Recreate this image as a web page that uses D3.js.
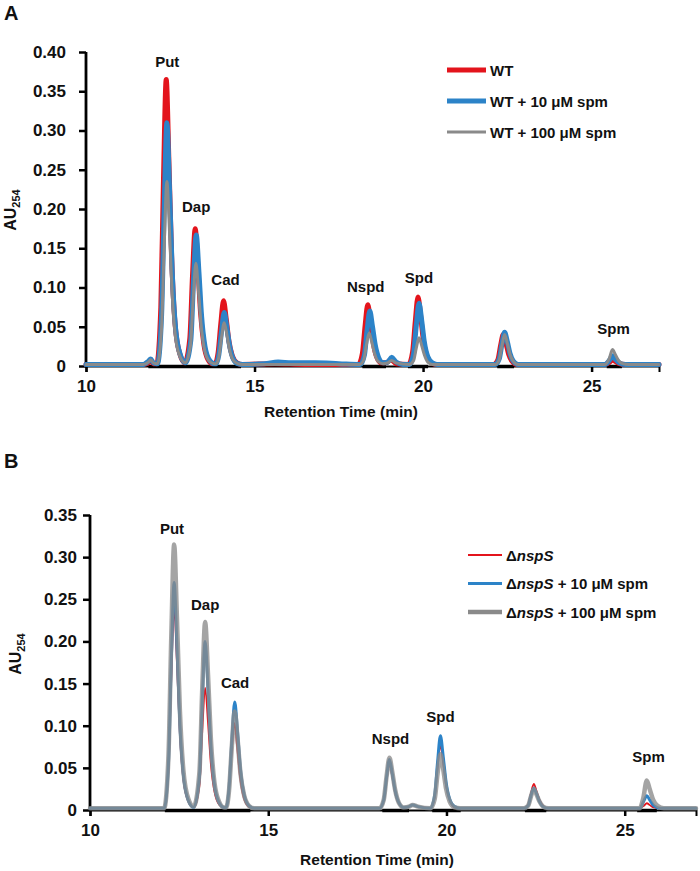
<!DOCTYPE html>
<html><head><meta charset="utf-8">
<script src="https://cdn.jsdelivr.net/npm/d3@7"></script>
<style>body{margin:0;background:#fff}svg{display:block}text{font-family:"Liberation Sans",Arial,sans-serif;font-weight:bold;fill:#111}</style>
</head><body>
<script>
// ---------- data ----------
const xTicks = [10, 15, 20, 25];
const yTicksA = [0, 0.05, 0.10, 0.15, 0.20, 0.25, 0.30, 0.35, 0.40];
const yTicksB = [0, 0.05, 0.10, 0.15, 0.20, 0.25, 0.30, 0.35];
const legendA = ["WT", "WT + 10 μM spm", "WT + 100 μM spm"];
const legendB = [" ", " + 10 μM spm", " + 100 μM spm"];
const peakNames = ["Put", "Dap", "Cad", "Nspd", "Spd", "Spm"];
const peakPosA = [[12.41,0.381],[13.27,0.196],[14.14,0.103],[18.30,0.094],[19.88,0.106],[25.65,0.041]];
const peakPosB = [[12.30,0.328],[13.23,0.2375],[14.07,0.145],[18.43,0.078],[19.83,0.1045],[25.67,0.057]];
const baseSegA = [[11.85,14.6],[18.2,18.9],[19.55,20.15],[22.2,22.7],[25.45,25.9]];
const baseSegB = [[12.1,14.5],[18.2,18.95],[19.6,20.4],[22.2,22.8],[25.35,25.9]];

const topWT = [[10,0.002],[11.7,0.002],[11.85,0.004],[11.92,0.006],[12.0,0.003],[12.10,0.003],[12.22,0.075],[12.30,0.24],[12.38,0.365],[12.46,0.26],[12.54,0.14],[12.64,0.055],[12.78,0.016],[12.93,0.004],[13.08,0.035],[13.16,0.115],[13.24,0.175],[13.32,0.126],[13.40,0.067],[13.50,0.027],[13.62,0.008],[13.74,0.003],[13.84,0.004],[13.92,0.017],[14.00,0.054],[14.08,0.083],[14.16,0.060],[14.24,0.032],[14.34,0.013],[14.48,0.004],[14.63,0.002],[15.6,0.003],[16.5,0.002],[18.08,0.002],[18.20,0.016],[18.28,0.051],[18.36,0.078],[18.44,0.056],[18.52,0.030],[18.62,0.012],[18.76,0.004],[18.9,0.004],[19.05,0.008],[19.2,0.003],[19.57,0.002],[19.69,0.018],[19.77,0.057],[19.85,0.088],[19.93,0.063],[20.01,0.033],[20.11,0.013],[20.25,0.004],[20.40,0.002],[22.10,0.002],[22.22,0.008],[22.30,0.026],[22.38,0.040],[22.46,0.029],[22.54,0.015],[22.64,0.006],[22.78,0.002],[25.40,0.002],[25.54,0.005],[25.62,0.008],[25.70,0.006],[25.82,0.003],[26.0,0.002],[27,0.002]];
const topWT10 = [[10,0.002],[11.7,0.002],[11.85,0.006],[11.92,0.009],[12.0,0.004],[12.12,0.003],[12.24,0.062],[12.32,0.20],[12.40,0.31],[12.48,0.223],[12.56,0.118],[12.66,0.047],[12.80,0.014],[12.95,0.004],[13.11,0.033],[13.19,0.109],[13.27,0.167],[13.35,0.120],[13.43,0.063],[13.53,0.025],[13.67,0.007],[13.80,0.003],[13.86,0.003],[13.94,0.014],[14.02,0.044],[14.10,0.068],[14.18,0.049],[14.26,0.026],[14.36,0.010],[14.50,0.003],[14.65,0.002],[15.3,0.003],[15.7,0.005],[16.1,0.004],[16.8,0.004],[17.5,0.003],[18.14,0.002],[18.26,0.014],[18.34,0.046],[18.42,0.070],[18.50,0.050],[18.58,0.027],[18.68,0.011],[18.82,0.004],[18.95,0.005],[19.07,0.011],[19.2,0.005],[19.4,0.002],[19.60,0.002],[19.72,0.016],[19.80,0.052],[19.88,0.080],[19.96,0.058],[20.04,0.030],[20.14,0.012],[20.28,0.004],[20.43,0.002],[22.14,0.002],[22.26,0.009],[22.34,0.028],[22.42,0.043],[22.50,0.031],[22.58,0.016],[22.68,0.006],[22.82,0.002],[25.40,0.002],[25.54,0.008],[25.62,0.013],[25.70,0.009],[25.82,0.004],[26.0,0.002],[27,0.002]];
const topWT100 = [[10,0.002],[11.7,0.002],[11.85,0.005],[11.92,0.008],[12.0,0.004],[12.12,0.003],[12.24,0.047],[12.32,0.153],[12.40,0.235],[12.48,0.169],[12.56,0.089],[12.66,0.035],[12.80,0.011],[12.95,0.004],[13.10,0.026],[13.18,0.085],[13.26,0.131],[13.34,0.094],[13.42,0.050],[13.52,0.020],[13.66,0.006],[13.80,0.003],[13.86,0.003],[13.94,0.011],[14.02,0.036],[14.10,0.055],[14.18,0.040],[14.26,0.021],[14.36,0.008],[14.50,0.003],[14.65,0.002],[18.12,0.002],[18.24,0.008],[18.32,0.027],[18.40,0.042],[18.48,0.030],[18.56,0.016],[18.66,0.006],[18.80,0.003],[18.95,0.004],[19.07,0.007],[19.2,0.004],[19.60,0.002],[19.72,0.007],[19.80,0.023],[19.88,0.036],[19.96,0.026],[20.04,0.014],[20.14,0.005],[20.28,0.002],[22.14,0.002],[22.26,0.008],[22.34,0.026],[22.42,0.040],[22.50,0.029],[22.58,0.015],[22.68,0.006],[22.82,0.002],[25.40,0.002],[25.52,0.009],[25.62,0.021],[25.70,0.015],[25.80,0.007],[25.92,0.003],[26.1,0.002],[27,0.002]];

const botNsp = [[10,0.002],[12.08,0.002],[12.20,0.048],[12.28,0.156],[12.36,0.24],[12.44,0.173],[12.52,0.091],[12.62,0.036],[12.76,0.010],[12.91,0.003],[13.07,0.029],[13.15,0.094],[13.23,0.145],[13.31,0.104],[13.39,0.055],[13.49,0.022],[13.63,0.006],[13.76,0.003],[13.81,0.003],[13.89,0.021],[13.97,0.067],[14.05,0.103],[14.13,0.074],[14.21,0.039],[14.31,0.015],[14.45,0.004],[14.60,0.002],[18.12,0.002],[18.24,0.011],[18.32,0.036],[18.40,0.055],[18.48,0.040],[18.56,0.021],[18.66,0.008],[18.80,0.003],[18.95,0.004],[19.05,0.006],[19.2,0.004],[19.35,0.003],[19.55,0.002],[19.67,0.015],[19.75,0.050],[19.83,0.077],[19.91,0.055],[19.99,0.029],[20.09,0.012],[20.23,0.003],[20.38,0.002],[22.17,0.002],[22.29,0.006],[22.37,0.020],[22.45,0.031],[22.53,0.022],[22.61,0.012],[22.71,0.005],[22.85,0.002],[25.40,0.002],[25.54,0.005],[25.62,0.008],[25.70,0.006],[25.82,0.003],[26.0,0.002],[27,0.002]];
const botNsp10 = [[10,0.002],[12.08,0.002],[12.20,0.054],[12.28,0.176],[12.36,0.27],[12.44,0.194],[12.52,0.103],[12.62,0.041],[12.76,0.011],[12.91,0.003],[13.07,0.040],[13.15,0.130],[13.23,0.20],[13.31,0.144],[13.39,0.076],[13.49,0.030],[13.63,0.008],[13.76,0.003],[13.82,0.003],[13.90,0.026],[13.98,0.083],[14.06,0.128],[14.14,0.092],[14.22,0.049],[14.32,0.019],[14.46,0.005],[14.61,0.002],[18.12,0.002],[18.24,0.012],[18.32,0.039],[18.40,0.060],[18.48,0.043],[18.56,0.023],[18.66,0.009],[18.80,0.003],[18.95,0.004],[19.05,0.006],[19.2,0.004],[19.55,0.002],[19.67,0.018],[19.75,0.057],[19.83,0.088],[19.91,0.063],[19.99,0.033],[20.09,0.013],[20.23,0.004],[20.38,0.002],[22.17,0.002],[22.29,0.005],[22.37,0.017],[22.45,0.026],[22.53,0.019],[22.61,0.010],[22.71,0.004],[22.85,0.002],[25.42,0.002],[25.54,0.011],[25.62,0.017],[25.70,0.012],[25.82,0.005],[26.0,0.002],[27,0.002]];
const botNsp100 = [[10,0.002],[12.08,0.002],[12.20,0.063],[12.28,0.205],[12.36,0.315],[12.44,0.227],[12.52,0.120],[12.62,0.047],[12.76,0.013],[12.91,0.004],[13.07,0.045],[13.15,0.145],[13.23,0.223],[13.31,0.161],[13.39,0.085],[13.49,0.033],[13.63,0.009],[13.76,0.003],[13.82,0.003],[13.90,0.023],[13.98,0.076],[14.06,0.117],[14.14,0.084],[14.22,0.044],[14.32,0.018],[14.46,0.005],[14.61,0.002],[18.12,0.002],[18.24,0.012],[18.32,0.040],[18.40,0.062],[18.48,0.045],[18.56,0.024],[18.66,0.009],[18.80,0.003],[18.95,0.004],[19.05,0.006],[19.2,0.004],[19.55,0.002],[19.67,0.013],[19.75,0.043],[19.83,0.066],[19.91,0.048],[19.99,0.025],[20.09,0.010],[20.23,0.003],[20.38,0.002],[22.17,0.002],[22.29,0.005],[22.37,0.016],[22.45,0.025],[22.53,0.018],[22.61,0.010],[22.71,0.004],[22.85,0.002],[25.42,0.002],[25.52,0.014],[25.62,0.035],[25.70,0.025],[25.80,0.012],[25.92,0.005],[26.1,0.002],[27,0.002]];

// ---------- drawing ----------
const RED = "#e3141c", BLUE = "#2c83c8", GRAY = "#8a8a8a";
const W = 700, H = 871;
const svg = d3.select("body").append("svg").attr("width", W).attr("height", H);

function panel(cfg) {
  const x = d3.scaleLinear().domain([10, 27]).range([cfg.x0, cfg.x1]);
  const y = d3.scaleLinear().domain([0, cfg.ymax]).range([cfg.y0, cfg.y1]);
  const g = svg.append("g");

  const xa = g.append("g").attr("transform", `translate(0,${cfg.y0})`)
    .call(d3.axisBottom(x).tickValues(xTicks).tickSize(6).tickPadding(8).tickFormat(d3.format("d")));
  xa.select(".domain").attr("stroke", "#000").attr("stroke-width", 2);
  xa.selectAll(".tick line").attr("stroke", "#000").attr("stroke-width", 2.5);
  xa.selectAll("text").style("font-size", "17px").attr("fill", "#111");

  const ya = g.append("g").attr("transform", `translate(${cfg.x0},0)`)
    .call(d3.axisLeft(y).tickValues(cfg.yTicks).tickSize(7).tickPadding(cfg.tickPad)
      .tickFormat(d => d === 0 ? "0" : d3.format(".2f")(d)));
  ya.select(".domain").attr("stroke", "#000").attr("stroke-width", 2.8).attr("d", `M0,${cfg.y0}V${cfg.y1}`);
  ya.selectAll(".tick line").attr("stroke", "#000").attr("stroke-width", 2.5);
  ya.selectAll("text").style("font-size", "17px").attr("fill", "#111");

  g.selectAll(".bs").data(cfg.baseSeg).join("line")
    .attr("x1", d => x(d[0])).attr("x2", d => x(d[1]))
    .attr("y1", cfg.y0 + 0.5).attr("y2", cfg.y0 + 0.5)
    .attr("stroke", "#000").attr("stroke-width", 3.5);

  const line = d3.line().x(d => x(d[0])).y(d => y(d[1])).curve(d3.curveMonotoneX);
  cfg.series.forEach(s => {
    g.append("path").datum(s.data).attr("d", line)
      .attr("fill", "none").attr("stroke", s.color).attr("stroke-width", s.w)
      .attr("stroke-opacity", s.op || 1)
      .attr("stroke-linejoin", "round").attr("stroke-linecap", "round");
  });

  g.selectAll(".pk").data(cfg.peakPos).join("text")
    .attr("x", d => x(d[0])).attr("y", d => y(d[1]))
    .attr("text-anchor", "middle").style("font-size", "15px")
    .text((d, i) => peakNames[i]);

  g.append("text").attr("x", cfg.xTitleX).attr("y", cfg.xTitleY)
    .attr("text-anchor", "middle").style("font-size", "15.5px").text("Retention Time (min)");
  const yt = g.append("text").attr("transform", `translate(${cfg.yTitleX},${cfg.yTitleY}) rotate(-90)`)
    .attr("text-anchor", "middle").style("font-size", "16px");
  yt.append("tspan").text("AU");
  yt.append("tspan").attr("dy", 4).style("font-size", "11px").text("254");

  g.append("text").attr("x", 4).attr("y", cfg.letterY).style("font-size", "20px").text(cfg.letter);

  const lg = g.append("g");
  cfg.series.slice().sort((a, b) => a.order - b.order).forEach((s, i) => {
    const ly = cfg.legY + i * cfg.legDy;
    lg.append("line").attr("x1", cfg.legX).attr("x2", cfg.legX + cfg.legLen)
      .attr("y1", ly).attr("y2", ly).attr("stroke", s.color).attr("stroke-width", s.legW);
    const t = lg.append("text").attr("x", cfg.legX + cfg.legLen + 4).attr("y", ly + 5.5).style("font-size", "15px");
    if (cfg.delta) {
      t.append("tspan").text("Δ");
      t.append("tspan").style("font-style", "italic").text("nspS");
      if (s.label.trim()) t.append("tspan").text(s.label);
    } else {
      t.text(s.label);
    }
  });
}

panel({
  letter: "A", letterY: 20, x0: 86, x1: 659, y0: 366, y1: 52, ymax: 0.40, yTicks: yTicksA, tickPad: 13,
  baseSeg: baseSegA, peakPos: peakPosA,
  xTitleX: 341, xTitleY: 417, yTitleX: 16, yTitleY: 210,
  legX: 447, legLen: 39, legY: 70, legDy: 31, delta: false,
  series: [
    {data: topWT, color: RED, w: 5, legW: 5, label: legendA[0], order: 0},
    {data: topWT10, color: BLUE, w: 5, legW: 5, label: legendA[1], order: 1},
    {data: topWT100, color: GRAY, w: 3, legW: 3, label: legendA[2], order: 2}
  ]
});

panel({
  letter: "B", letterY: 468, x0: 90, x1: 696, y0: 810, y1: 515, ymax: 0.35, yTicks: yTicksB, tickPad: 6,
  baseSeg: baseSegB, peakPos: peakPosB,
  xTitleX: 377, xTitleY: 865, yTitleX: 21, yTitleY: 654,
  legX: 468, legLen: 34, legY: 555, legDy: 28.5, delta: true,
  series: [
    {data: botNsp, color: RED, w: 1.8, legW: 2, label: legendB[0], order: 0},
    {data: botNsp10, color: BLUE, w: 3, legW: 3, label: legendB[1], order: 1},
    {data: botNsp100, color: GRAY, w: 4.5, legW: 4.5, label: legendB[2], order: 2, op: 0.78}
  ]
});
</script>
</body></html>
